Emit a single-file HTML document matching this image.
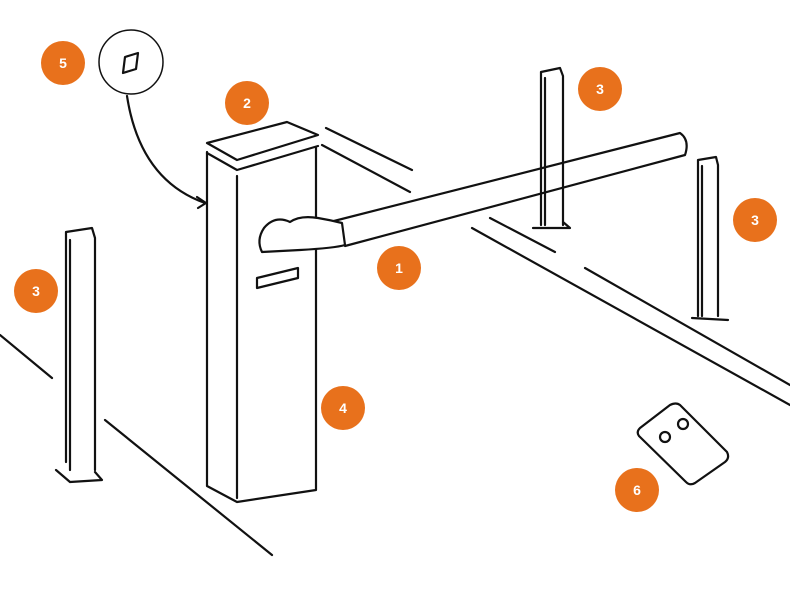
<!DOCTYPE html>
<html><head><style>body{margin:0;background:#fff}svg{display:block}</style></head><body>
<svg width="790" height="598" viewBox="0 0 790 598" xmlns="http://www.w3.org/2000/svg" font-family="Liberation Sans, sans-serif">
<g fill="none" stroke="#111" stroke-width="2.2" stroke-linecap="round" stroke-linejoin="round">
<!-- ground -->
<path d="M0 335 L52 378"/><path d="M105 420 L272 555"/>
<path d="M326 128 L412 170"/><path d="M322 145 L410 192"/>
<path d="M472 228 L790 405"/><path d="M490 218 L555 252"/><path d="M585 268 L790 385"/>
<!-- box -->
<path d="M207 143 L287 122 L318 135 L237 160 Z"/>
<path d="M207 153 L237 170 L318 146"/>
<path d="M207 152 L207 486 L237 502 L316 490 L316 148"/>
<path d="M237 176 L237 498"/>
<path d="M257 278 L298 268 L298 278 L257 288 Z"/>
<!-- boom -->
<path d="M330 222 L680 133 Q690 140 685 155 L345 246"/>
<path d="M318 218 Q300 215 290 222 Q275 215 264 228 Q256 240 262 252 L300 250 Q335 248 345 245 L342 223 Q330 220 318 218 Z" fill="#fff"/>
<!-- posts -->
<path d="M541 72 L560 68 L563 76 L563 225 M541 72 L541 225 M545 78 L545 225 M533 228 L570 228 L563 222"/>
<path d="M698 160 L716 157 L718 165 L718 316 M698 160 L698 316 M702 166 L702 316 M692 318 L728 320"/>
<path d="M66 232 L92 228 L95 238 L95 470 M66 232 L66 462 M70 240 L70 470 M56 470 L70 482 L102 480 L95 472"/>
<!-- remote -->
<path d="M640 428 L670 405 Q676 402 680 405 L727 452 Q730 458 725 462 L695 483 Q690 486 686 482 L639 436 Q636 432 640 428 Z"/>
<circle cx="665" cy="437" r="5"/><circle cx="683" cy="424" r="5"/>
<!-- callout -->
<circle cx="131" cy="62" r="32" stroke-width="1.5"/>
<path d="M125 57 L138 53 L136 69 L123 73 Z"/>
<path d="M127 96 Q140 180 205 203"/><path d="M197 197 L206 203 L198 208"/>
</g>
<g fill="#e8711c">
<circle cx="63" cy="63" r="22"/><circle cx="247" cy="103" r="22"/><circle cx="600" cy="89" r="22"/>
<circle cx="755" cy="220" r="22"/><circle cx="36" cy="291" r="22"/><circle cx="399" cy="268" r="22"/>
<circle cx="343" cy="408" r="22"/><circle cx="637" cy="490" r="22"/>
</g>
<g fill="#fff" font-size="14" font-weight="bold" text-anchor="middle">
<text x="63" y="68">5</text><text x="247" y="108">2</text><text x="600" y="94">3</text>
<text x="755" y="225">3</text><text x="36" y="296">3</text><text x="399" y="273">1</text>
<text x="343" y="413">4</text><text x="637" y="495">6</text>
</g>
</svg>
</body></html>
